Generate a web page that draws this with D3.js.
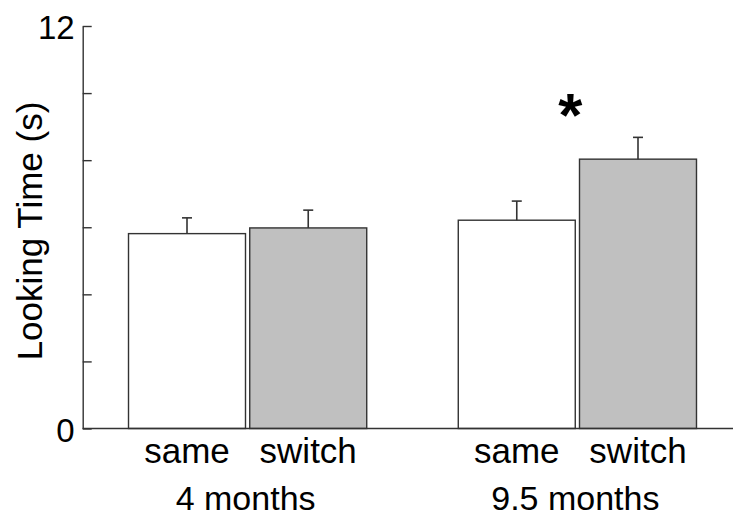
<!DOCTYPE html>
<html>
<head>
<meta charset="utf-8">
<script src="https://cdn.jsdelivr.net/npm/d3@7"></script>
<style>
  html, body { margin: 0; padding: 0; background: #fff; }
  svg { display: block; }
  text { font-family: "Liberation Sans", Arial, sans-serif; fill: #000; }
</style>
</head>
<body>
<svg id="chart" width="735" height="517"></svg>
<script>
const groups = ["4 months", "9.5 months"];
const conditions = ["same", "switch"];
const meanSame = [5.81, 6.21];
const meanSwitch = [5.98, 8.03];
const seSame = [0.47, 0.57];
const seSwitch = [0.53, 0.65];
const yTickValues = [0, 2, 4, 6, 8, 10, 12];
const yTickLabels = ["0", "", "", "", "", "", "12"];
const yLabel = "Looking Time (s)";
const significant = [false, true];

const data = [];
groups.forEach((g, i) => {
  data.push({ group: g, cond: "same", value: meanSame[i], se: seSame[i] });
  data.push({ group: g, cond: "switch", value: meanSwitch[i], se: seSwitch[i] });
});

const svg = d3.select("#chart");
const axisX = 82.7, zeroY = 428.5, topY = 26;
const stroke = "#333";

const y = d3.scaleLinear().domain([0, 12]).range([zeroY, topY]);
const x0 = d3.scaleBand().domain(groups).range([83, 742]).paddingInner(0.2776).paddingOuter(0.138);
const x1 = d3.scaleBand().domain(conditions).range([0, x0.bandwidth()]).paddingInner(0.035);
const fill = d3.scaleOrdinal().domain(conditions).range(["#ffffff", "#c0c0c0"]);

// bars
const gBars = svg.append("g");
gBars.selectAll("rect").data(data).enter().append("rect")
  .attr("x", d => x0(d.group) + x1(d.cond))
  .attr("y", d => y(d.value))
  .attr("width", x1.bandwidth())
  .attr("height", d => y(0) - y(d.value))
  .attr("fill", d => fill(d.cond))
  .attr("stroke", stroke)
  .attr("stroke-width", 1.4);

// error bars
const capW = 10;
const gErr = svg.append("g").attr("stroke", stroke).attr("stroke-width", 1.6);
data.forEach(d => {
  const cx = x0(d.group) + x1(d.cond) + x1.bandwidth() / 2;
  gErr.append("line").attr("x1", cx).attr("x2", cx).attr("y1", y(d.value)).attr("y2", y(d.value + d.se));
  gErr.append("line").attr("x1", cx - capW / 2).attr("x2", cx + capW / 2).attr("y1", y(d.value + d.se)).attr("y2", y(d.value + d.se));
});

// y axis
const yAxis = d3.axisLeft(y)
  .tickValues(yTickValues)
  .tickSize(-9)
  .tickSizeOuter(0)
  .tickPadding(8)
  .tickFormat((d, i) => yTickLabels[i]);
const gy = svg.append("g").attr("transform", `translate(${axisX},0)`).call(yAxis);
gy.selectAll("path, line").attr("stroke", stroke).attr("stroke-width", 1.4);
gy.selectAll("text").attr("font-size", 33).attr("font-family", "Liberation Sans, Arial, sans-serif")
  .attr("fill", "#000").attr("dy", "0.38em");

// x axis baseline
svg.append("line").attr("x1", axisX).attr("x2", 733).attr("y1", zeroY).attr("y2", zeroY)
  .attr("stroke", stroke).attr("stroke-width", 1.4);

// condition labels
data.forEach(d => {
  svg.append("text")
    .attr("x", x0(d.group) + x1(d.cond) + x1.bandwidth() / 2)
    .attr("y", 463)
    .attr("text-anchor", "middle")
    .attr("font-size", 35)
    .text(d.cond);
});

// group labels
groups.forEach(g => {
  svg.append("text")
    .attr("x", x0(g) + x0.bandwidth() / 2 - 2)
    .attr("y", 510)
    .attr("text-anchor", "middle")
    .attr("font-size", 34)
    .text(g);
});

// significance asterisk
groups.forEach((g, i) => {
  if (!significant[i]) return;
  svg.append("text")
    .attr("x", x0(g) + x0.bandwidth() / 2 - 7)
    .attr("y", 136)
    .attr("text-anchor", "middle")
    .attr("font-size", 62)
    .attr("font-weight", "bold")
    .text("*");
});

// y label
svg.append("text")
  .attr("transform", `translate(42,231) rotate(-90)`)
  .attr("text-anchor", "middle")
  .attr("font-size", 35)
  .text(yLabel);
</script>
</body>
</html>
